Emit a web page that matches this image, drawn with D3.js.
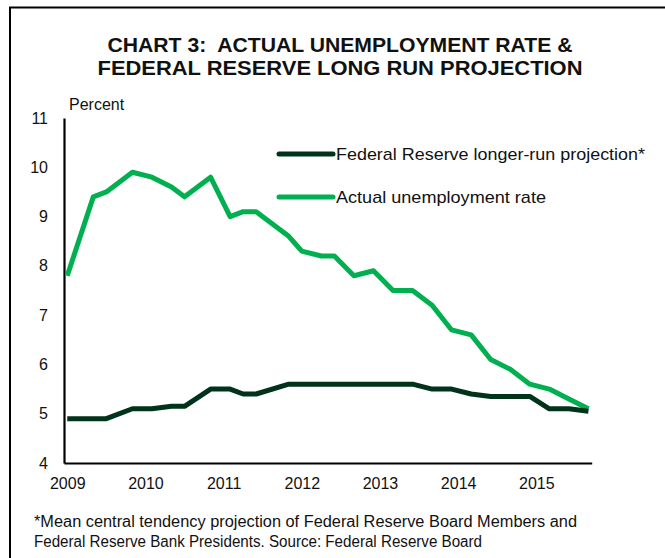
<!DOCTYPE html>
<html>
<head>
<meta charset="utf-8">
<script src="https://cdn.jsdelivr.net/npm/d3@7"></script>
<style>
  body { margin: 0; background: #fff; }
  text { font-family: "Liberation Sans", Arial, sans-serif; fill: #111; white-space: pre; }
</style>
</head>
<body>
<svg id="chart"></svg>
<script>
// SEP release months and values
const dates = ["2009-01","2009-05","2009-07","2009-11","2010-02","2010-05","2010-07","2010-11",
               "2011-02","2011-04","2011-06","2011-11","2012-01","2012-04","2012-06","2012-09",
               "2012-12","2013-03","2013-06","2013-09","2013-12","2014-03","2014-06","2014-09",
               "2014-12","2015-03","2015-06","2015-09"];
const actualRate = [7.8, 9.4, 9.5, 9.9, 9.8, 9.6, 9.4, 9.8,
                    9.0, 9.1, 9.1, 8.6, 8.3, 8.2, 8.2, 7.8,
                    7.9, 7.5, 7.5, 7.2, 6.7, 6.6, 6.1, 5.9,
                    5.6, 5.5, 5.3, 5.1];
const fedProjection = [4.9, 4.9, 4.9, 5.1, 5.1, 5.15, 5.15, 5.5,
                       5.5, 5.4, 5.4, 5.6, 5.6, 5.6, 5.6, 5.6,
                       5.6, 5.6, 5.6, 5.5, 5.5, 5.4, 5.35, 5.35,
                       5.35, 5.1, 5.1, 5.05];
const years = [2009, 2010, 2011, 2012, 2013, 2014, 2015];
const yTicks = [4, 5, 6, 7, 8, 9, 10, 11];
const titleLines = ["CHART 3:  ACTUAL UNEMPLOYMENT RATE &", "FEDERAL RESERVE LONG RUN PROJECTION"];
const noteLines = ["*Mean central tendency projection of Federal Reserve Board Members and",
                   "Federal Reserve Bank Presidents. Source: Federal Reserve Board"];

const width = 665, height = 558;
const darkGreen = "#00331a", green = "#00b050";

const svg = d3.select("#chart").attr("width", width).attr("height", height);

// frame (top and left edges only are visible)
svg.append("path")
   .attr("d", `M10,${height + 5} L10,7.5 L${width + 5},7.5`)
   .attr("fill", "none")
   .attr("stroke", "#000")
   .attr("stroke-width", 2);

// month index from Jan 2009
const monthIdx = s => (+s.slice(0, 4) - 2009) * 12 + (+s.slice(5, 7) - 1);

const x = d3.scaleLinear().domain([-0.5, 80.5]).range([64, 591.7]);
const y = d3.scaleLinear().domain([4, 11]).range([463, 118]);

// title
svg.selectAll(".title")
   .data(titleLines)
   .enter()
   .append("text")
   .attr("x", 340)
   .attr("y", (d, i) => 52 + i * 23)
   .attr("text-anchor", "middle")
   .style("font-size", "21px")
   .style("font-weight", "bold")
   .attr("textLength", (d, i) => i === 0 ? 465 : 485)
   .attr("lengthAdjust", "spacingAndGlyphs")
   .text(d => d);

svg.append("text")
   .attr("x", 69)
   .attr("y", 110)
   .style("font-size", "16px")
   .text("Percent");

// axes
const xAxis = svg.append("g")
   .attr("transform", `translate(0,${y(4)})`)
   .call(d3.axisBottom(x)
           .tickValues(years.map(yr => (yr - 2009) * 12))
           .tickFormat((d, i) => years[i])
           .tickSize(0)
           .tickPadding(15));

const yAxis = svg.append("g")
   .attr("transform", `translate(${x.range()[0]},0)`)
   .call(d3.axisLeft(y)
           .tickValues(yTicks)
           .tickFormat(d3.format("d"))
           .tickSize(0)
           .tickPadding(16));

[xAxis, yAxis].forEach(g => {
    g.select(".domain").attr("stroke", "#000").attr("stroke-width", 2.2);
    g.selectAll("text").style("font-size", "16px").attr("fill", "#111")
     .style("font-family", "'Liberation Sans', Arial, sans-serif");
});

// lines
const series = [
    { name: "Federal Reserve longer-run projection*", values: fedProjection, color: darkGreen },
    { name: "Actual unemployment rate", values: actualRate, color: green }
];

const line = d3.line()
    .x(d => x(d[0]))
    .y(d => y(d[1]));

series.slice().reverse().forEach(s => {
    svg.append("path")
       .datum(dates.map((dt, i) => [monthIdx(dt), s.values[i]]))
       .attr("fill", "none")
       .attr("stroke", s.color)
       .attr("stroke-width", 5)
       .attr("stroke-linejoin", "round")
       .attr("d", line);
});

// legend
const legend = svg.append("g").attr("transform", "translate(279,154)");
series.forEach((s, i) => {
    legend.append("line")
          .attr("x1", 0).attr("x2", 54)
          .attr("y1", i * 43).attr("y2", i * 43)
          .attr("stroke", s.color)
          .attr("stroke-width", 5)
          .attr("stroke-linecap", "round");
    legend.append("text")
          .attr("x", 57)
          .attr("y", i * 43 + 6)
          .style("font-size", "17px")
          .attr("textLength", i === 0 ? 309 : 210)
          .attr("lengthAdjust", "spacingAndGlyphs")
          .text(s.name);
});

// footnote
svg.selectAll(".note")
   .data(noteLines)
   .enter()
   .append("text")
   .attr("x", 34)
   .attr("y", (d, i) => 527 + i * 20)
   .style("font-size", "16px")
   .attr("textLength", (d, i) => i === 0 ? 543 : 448)
   .attr("lengthAdjust", "spacingAndGlyphs")
   .text(d => d);
</script>
</body>
</html>
